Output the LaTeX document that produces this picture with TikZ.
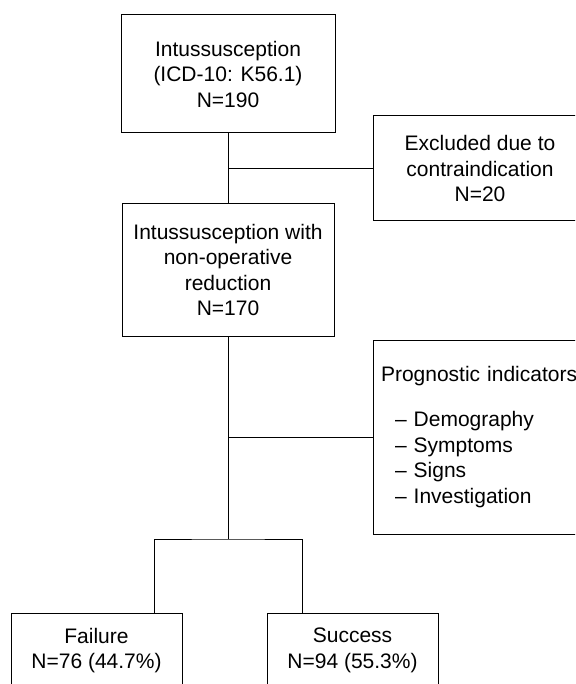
\documentclass[tikz,border=0pt]{standalone}
\usepackage{fontspec}
\setmainfont{Liberation Sans}
\begin{document}
\begin{tikzpicture}[x=1pt,y=-1pt,
  box/.style={draw=black,line width=1pt,rectangle,inner sep=0pt,align=center,
    font=\fontsize{21}{25.5}\selectfont},
  conn/.style={draw=black,line width=1pt}]
\useasboundingbox (0,0) rectangle (575,684);
\clip (0,0) rectangle (575,684);
\fill[white] (0,0) rectangle (575,684);
\node[box,minimum width=214pt,minimum height=118pt] (top) at (228,74)
  {Intussusception\\(ICD-10: K56.1)\\N=190};
\node[box,minimum width=214pt,minimum height=105pt] (excl) at (480,168.5)
  {Excluded due to\\contraindication\\N=20};
\node[box,minimum width=212pt,minimum height=132pt] (mid) at (228,270)
  {Intussusception with\\non-operative\\reduction\\N=170};
\node[box,align=left,text width=201pt,inner xsep=8pt,minimum height=194pt] (prog) at (481.5,437)
  {Prognostic indicators\\[19.5pt]\hspace*{14pt}– Demography\\\hspace*{14pt}– Symptoms\\\hspace*{14pt}– Signs\\\hspace*{14pt}– Investigation};
\node[box,minimum width=171pt,minimum height=75pt] (fail) at (96.5,650.5)
  {Failure\\N=76 (44.7\%)};
\node[box,minimum width=171pt,minimum height=75pt] (succ) at (352.5,650.5)
  {Success\\N=94 (55.3\%)};
\coordinate (j) at (228,539);
\coordinate (fl) at ([xshift=57.5pt]fail.north);
\coordinate (fr) at ([xshift=-50.5pt]succ.north);
\draw[conn] (top.south) -- (mid.north);
\draw[conn] (top.south |- excl.west) -- (excl.west);
\draw[conn] (mid.south) -- (j);
\draw[conn] (mid.south |- prog.west) -- (prog.west);
\draw[conn] (fl) |- (j) -| (fr);
\end{tikzpicture}
\end{document}
